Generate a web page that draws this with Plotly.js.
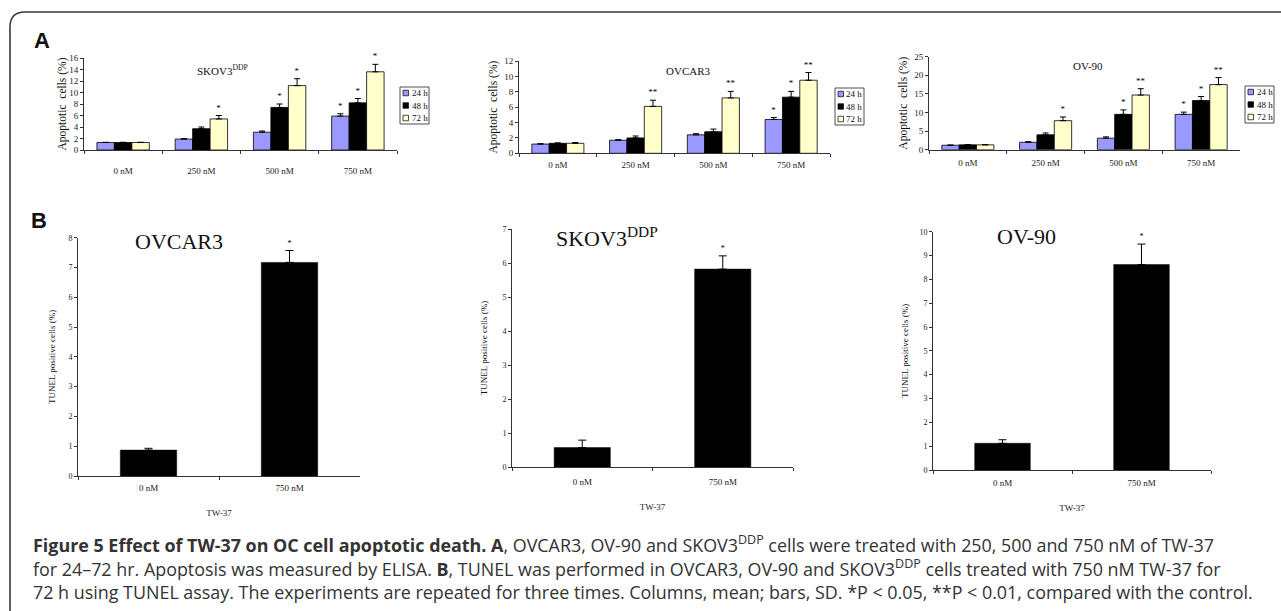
<!DOCTYPE html>
<html>
<head>
<meta charset="utf-8">
<script src="https://cdn.plot.ly/plotly-3.0.1.min.js"></script>
<style>html,body{margin:0;padding:0;background:#fff;}#chart{width:1281px;height:611px;}</style>
</head>
<body>
<div id="chart"></div>
<script>
// ---------------- DATA ----------------
const doseCats = ['0 nM', '250 nM', '500 nM', '750 nM'];
const seriesNames = ['24 h', '48 h', '72 h'];

// Panel A1: SKOV3DDP (ELISA apoptosis %)
const skov_24 = [1.3, 1.9, 3.1, 5.9];
const skov_24_err = [0.05, 0.08, 0.2, 0.4];
const skov_48 = [1.3, 3.7, 7.4, 8.2];
const skov_48_err = [0.05, 0.3, 0.6, 0.75];
const skov_72 = [1.3, 5.4, 11.2, 13.6];
const skov_72_err = [0.05, 0.6, 1.2, 1.3];
const skov_24_sig = ['', '', '', '*'];
const skov_48_sig = ['', '', '*', '*'];
const skov_72_sig = ['', '*', '*', '*'];

// Panel A2: OVCAR3
const ovcar_24 = [1.2, 1.7, 2.4, 4.4];
const ovcar_24_err = [0.05, 0.06, 0.15, 0.25];
const ovcar_48 = [1.3, 2.0, 2.8, 7.3];
const ovcar_48_err = [0.05, 0.25, 0.35, 0.75];
const ovcar_72 = [1.3, 6.1, 7.2, 9.5];
const ovcar_72_err = [0.1, 0.8, 0.85, 1.0];
const ovcar_24_sig = ['', '', '', '*'];
const ovcar_48_sig = ['', '', '', '*'];
const ovcar_72_sig = ['', '**', '**', '**'];

// Panel A3: OV-90
const ov90_24 = [1.2, 2.0, 3.1, 9.5];
const ov90_24_err = [0.05, 0.15, 0.35, 0.6];
const ov90_48 = [1.3, 4.0, 9.5, 13.2];
const ov90_48_err = [0.1, 0.5, 1.2, 1.1];
const ov90_72 = [1.3, 7.8, 14.7, 17.5];
const ov90_72_err = [0.1, 1.0, 1.7, 1.9];
const ov90_24_sig = ['', '', '', '*'];
const ov90_48_sig = ['', '', '*', '*'];
const ov90_72_sig = ['', '*', '**', '**'];

// Panel B: TUNEL positive cells (%)
const tunelCats = ['0 nM', '750 nM'];
const tunel_ovcar = [0.87, 7.17];
const tunel_ovcar_err = [0.06, 0.4];
const tunel_skov = [0.57, 5.82];
const tunel_skov_err = [0.22, 0.39];
const tunel_ov90 = [1.12, 8.62];
const tunel_ov90_err = [0.15, 0.86];
const tunel_sig = ['', '*'];

// ---------------- STYLE ----------------
const W = 1281, H = 611;
const px = x => x / W;
const py = y => 1 - y / H;
const serif = 'Liberation Serif, Times New Roman, serif';
const seriesColors = ['#9999ff', '#000000', '#ffffcc'];
const axCol = '#333';

// keep only the positions that carry a significance mark
function sigSubset(cats, tops, sigs) {
  const keep = sigs.map((s, i) => s !== '' ? i : -1).filter(i => i >= 0);
  return {x: keep.map(i => cats[i]), y: keep.map(i => tops[i]), text: keep.map(i => sigs[i])};
}

const traces = [];
function addGroup(xa, ya, vals, errs, sigs, tag) {
  vals.forEach((v, j) => {
    traces.push({
      type: 'bar', x: doseCats, y: v, name: seriesNames[j],
      xaxis: xa, yaxis: ya, showlegend: false,
      offsetgroup: tag + j, alignmentgroup: tag,
      marker: {color: seriesColors[j], line: {color: '#000', width: 0.8}},
      error_y: {type: 'data', symmetric: false, array: errs[j], arrayminus: errs[j].map(() => 0),
                color: '#000', thickness: 1, width: 3},
      hoverinfo: 'skip'
    });
  });
  vals.forEach((v, j) => {
    const s = sigSubset(doseCats, v.map((m, i) => m + errs[j][i]), sigs[j]);
    traces.push({
      type: 'bar', x: s.x, y: s.y,
      xaxis: xa, yaxis: ya, showlegend: false,
      offsetgroup: tag + j, alignmentgroup: tag,
      marker: {color: 'rgba(0,0,0,0)', line: {width: 0}},
      text: s.text, textposition: 'outside', cliponaxis: false, constraintext: 'none',
      textfont: {family: serif, size: 9, color: '#000'},
      hoverinfo: 'skip'
    });
  });
}
addGroup('x', 'y', [skov_24, skov_48, skov_72], [skov_24_err, skov_48_err, skov_72_err],
         [skov_24_sig, skov_48_sig, skov_72_sig], 'a1');
addGroup('x2', 'y2', [ovcar_24, ovcar_48, ovcar_72], [ovcar_24_err, ovcar_48_err, ovcar_72_err],
         [ovcar_24_sig, ovcar_48_sig, ovcar_72_sig], 'a2');
addGroup('x3', 'y3', [ov90_24, ov90_48, ov90_72], [ov90_24_err, ov90_48_err, ov90_72_err],
         [ov90_24_sig, ov90_48_sig, ov90_72_sig], 'a3');

function addTunel(xa, ya, vals, errs, tag) {
  traces.push({
    type: 'bar', x: tunelCats, y: vals, xaxis: xa, yaxis: ya, showlegend: false,
    width: 0.4, offsetgroup: tag, alignmentgroup: tag,
    marker: {color: '#000', line: {color: '#000', width: 0.5}},
    error_y: {type: 'data', symmetric: false, array: errs, arrayminus: errs.map(() => 0),
              color: '#000', thickness: 1, width: 4},
    hoverinfo: 'skip'
  });
  const s = sigSubset(tunelCats, vals.map((m, i) => m + errs[i]), tunel_sig);
  traces.push({
    type: 'bar', x: s.x, y: s.y, xaxis: xa, yaxis: ya, showlegend: false,
    width: 0.4, offsetgroup: tag, alignmentgroup: tag,
    marker: {color: 'rgba(0,0,0,0)', line: {width: 0}},
    text: s.text, textposition: 'outside', cliponaxis: false, constraintext: 'none',
    textfont: {family: serif, size: 8, color: '#000'},
    hoverinfo: 'skip'
  });
}
addTunel('x4', 'y4', tunel_ovcar, tunel_ovcar_err, 'b1');
addTunel('x5', 'y5', tunel_skov, tunel_skov_err, 'b2');
addTunel('x6', 'y6', tunel_ov90, tunel_ov90_err, 'b3');

// ---------------- LAYOUT ----------------
function xAx(x0, x1, anchor, standoff, title) {
  const a = {
    domain: [px(x0), px(x1)], anchor: anchor, type: 'category',
    showline: true, linecolor: axCol, linewidth: 1, showgrid: false, zeroline: false,
    ticks: 'outside', tickson: 'boundaries', ticklen: 3, tickcolor: axCol,
    tickfont: {family: serif, size: 9, color: '#222'}, ticklabelstandoff: standoff,
    fixedrange: true
  };
  if (title) { a.title = {text: title, font: {family: serif, size: 9, color: '#222'}, standoff: 17}; }
  return a;
}
function yAx(y0, y1, anchor, range, dtick, title, tsize, tfont, standoff) {
  return {
    domain: [py(y1), py(y0)], anchor: anchor, range: range, dtick: dtick,
    showline: true, linecolor: axCol, linewidth: 1, showgrid: false, zeroline: false,
    ticks: 'outside', ticklen: 3, tickcolor: axCol,
    tickfont: {family: serif, size: tsize, color: '#222'},
    title: {text: title, font: {family: serif, size: tfont, color: '#111'}, standoff: standoff},
    fixedrange: true
  };
}

const layout = {
  width: W, height: H, autosize: false,
  margin: {l: 0, r: 0, t: 0, b: 0},
  paper_bgcolor: '#fff', plot_bgcolor: 'rgba(0,0,0,0)',
  barmode: 'group', bargap: 0.33, bargroupgap: 0,
  showlegend: false,
  xaxis: xAx(84, 397, 'y', 12),
  yaxis: yAx(58, 150, 'x', [0, 16], 2, 'Apoptotic  cells (%)', 9, 11.5, 0),
  xaxis2: xAx(519, 830, 'y2', 3),
  yaxis2: yAx(61, 153.3, 'x2', [0, 12], 2, 'Apoptotic  cells (%)', 9, 11.5, 4),
  xaxis3: xAx(929, 1240, 'y3', 4),
  yaxis3: yAx(56.7, 149.7, 'x3', [0, 25], 5, 'Apoptotic  cells (%)', 9, 11.5, 4),
  xaxis4: xAx(78, 360, 'y4', 3, 'TW-37'),
  yaxis4: yAx(237.7, 476, 'x4', [0, 8], 1, 'TUNEL positive cells (%)', 8, 9, 11),
  xaxis5: xAx(512, 793, 'y5', 6, 'TW-37'),
  yaxis5: yAx(229, 467, 'x5', [0, 7], 1, 'TUNEL positive cells (%)', 8, 9, 13),
  xaxis6: xAx(933, 1211, 'y6', 4, 'TW-37'),
  yaxis6: yAx(231.7, 470, 'x6', [0, 10], 1, 'TUNEL positive cells (%)', 8, 9, 9),
  shapes: [], annotations: []
};

// frame with rounded top-left corner
layout.shapes.push({
  type: 'path', xref: 'paper', yref: 'paper',
  path: `M ${px(10)},${py(680)} L ${px(10)},${py(27)} Q ${px(10)},${py(12)} ${px(25)},${py(12)} L ${px(1300)},${py(12)}`,
  line: {color: '#3a3a3a', width: 1.6}
});

function ann(x, y, text, font, xanchor, yanchor) {
  layout.annotations.push({xref: 'paper', yref: 'paper', x: px(x), y: py(y), text: text,
    showarrow: false, font: font, xanchor: xanchor || 'center', yanchor: yanchor || 'middle'});
}

// panel letters
ann(32, 40, '<b>A</b>', {family: 'Liberation Sans, Arial, sans-serif', size: 22, color: '#111'}, 'left');
ann(29, 221, '<b>B</b>', {family: 'Liberation Sans, Arial, sans-serif', size: 22, color: '#111'}, 'left');

// subplot titles
ann(222, 70, 'SKOV3<sup>DDP</sup>', {family: serif, size: 11, color: '#111'});
ann(688, 71, 'OVCAR3', {family: serif, size: 11, color: '#111'});
ann(1088, 66, 'OV-90', {family: serif, size: 11, color: '#111'});
ann(179, 241, 'OVCAR3', {family: serif, size: 22, color: '#111'});
ann(607, 237, 'SKOV3<sup>DDP</sup>', {family: serif, size: 22, color: '#111'});
ann(1026, 236, 'OV-90', {family: serif, size: 22, color: '#111'});

// legends (one per panel A chart)
function legendBox(x0, y0) {
  const w = 29, h = 37;
  layout.shapes.push({type: 'rect', xref: 'paper', yref: 'paper',
    x0: px(x0), x1: px(x0 + w), y0: py(y0 + h), y1: py(y0), line: {color: '#222', width: 0.8}, fillcolor: '#fff'});
  seriesNames.forEach((nm, j) => {
    const cy = y0 + 6 + 12.5 * j;
    layout.shapes.push({type: 'rect', xref: 'paper', yref: 'paper',
      x0: px(x0 + 3), x1: px(x0 + 8.5), y0: py(cy + 2.75), y1: py(cy - 2.75),
      line: {color: '#000', width: 0.7}, fillcolor: seriesColors[j]});
    ann(x0 + 9.5, cy, nm, {family: serif, size: 9, color: '#111'}, 'left');
  });
}
legendBox(400, 87);
legendBox(835, 88);
legendBox(1245, 86);

// caption
const capFont = {family: 'Open Sans, Noto Sans, sans-serif', size: 17.9, color: '#333'};
ann(31, 544, '<b>Figure 5 Effect of TW-37 on OC cell apoptotic death. A</b>, OVCAR3, OV-90 and SKOV3<sup>DDP</sup> cells were treated with 250, 500 and 750 nM of TW-37', capFont, 'left');
ann(31, 568, 'for 24–72 hr. Apoptosis was measured by ELISA. <b>B</b>, TUNEL was performed in OVCAR3, OV-90 and SKOV3<sup>DDP</sup> cells treated with 750 nM TW-37 for', capFont, 'left');
ann(31, 592, '72 h using TUNEL assay. The experiments are repeated for three times. Columns, mean; bars, SD. *P &lt; 0.05, **P &lt; 0.01, compared with the control.', capFont, 'left');

Plotly.newPlot('chart', traces, layout, {staticPlot: true, displayModeBar: false});
</script>
</body>
</html>
